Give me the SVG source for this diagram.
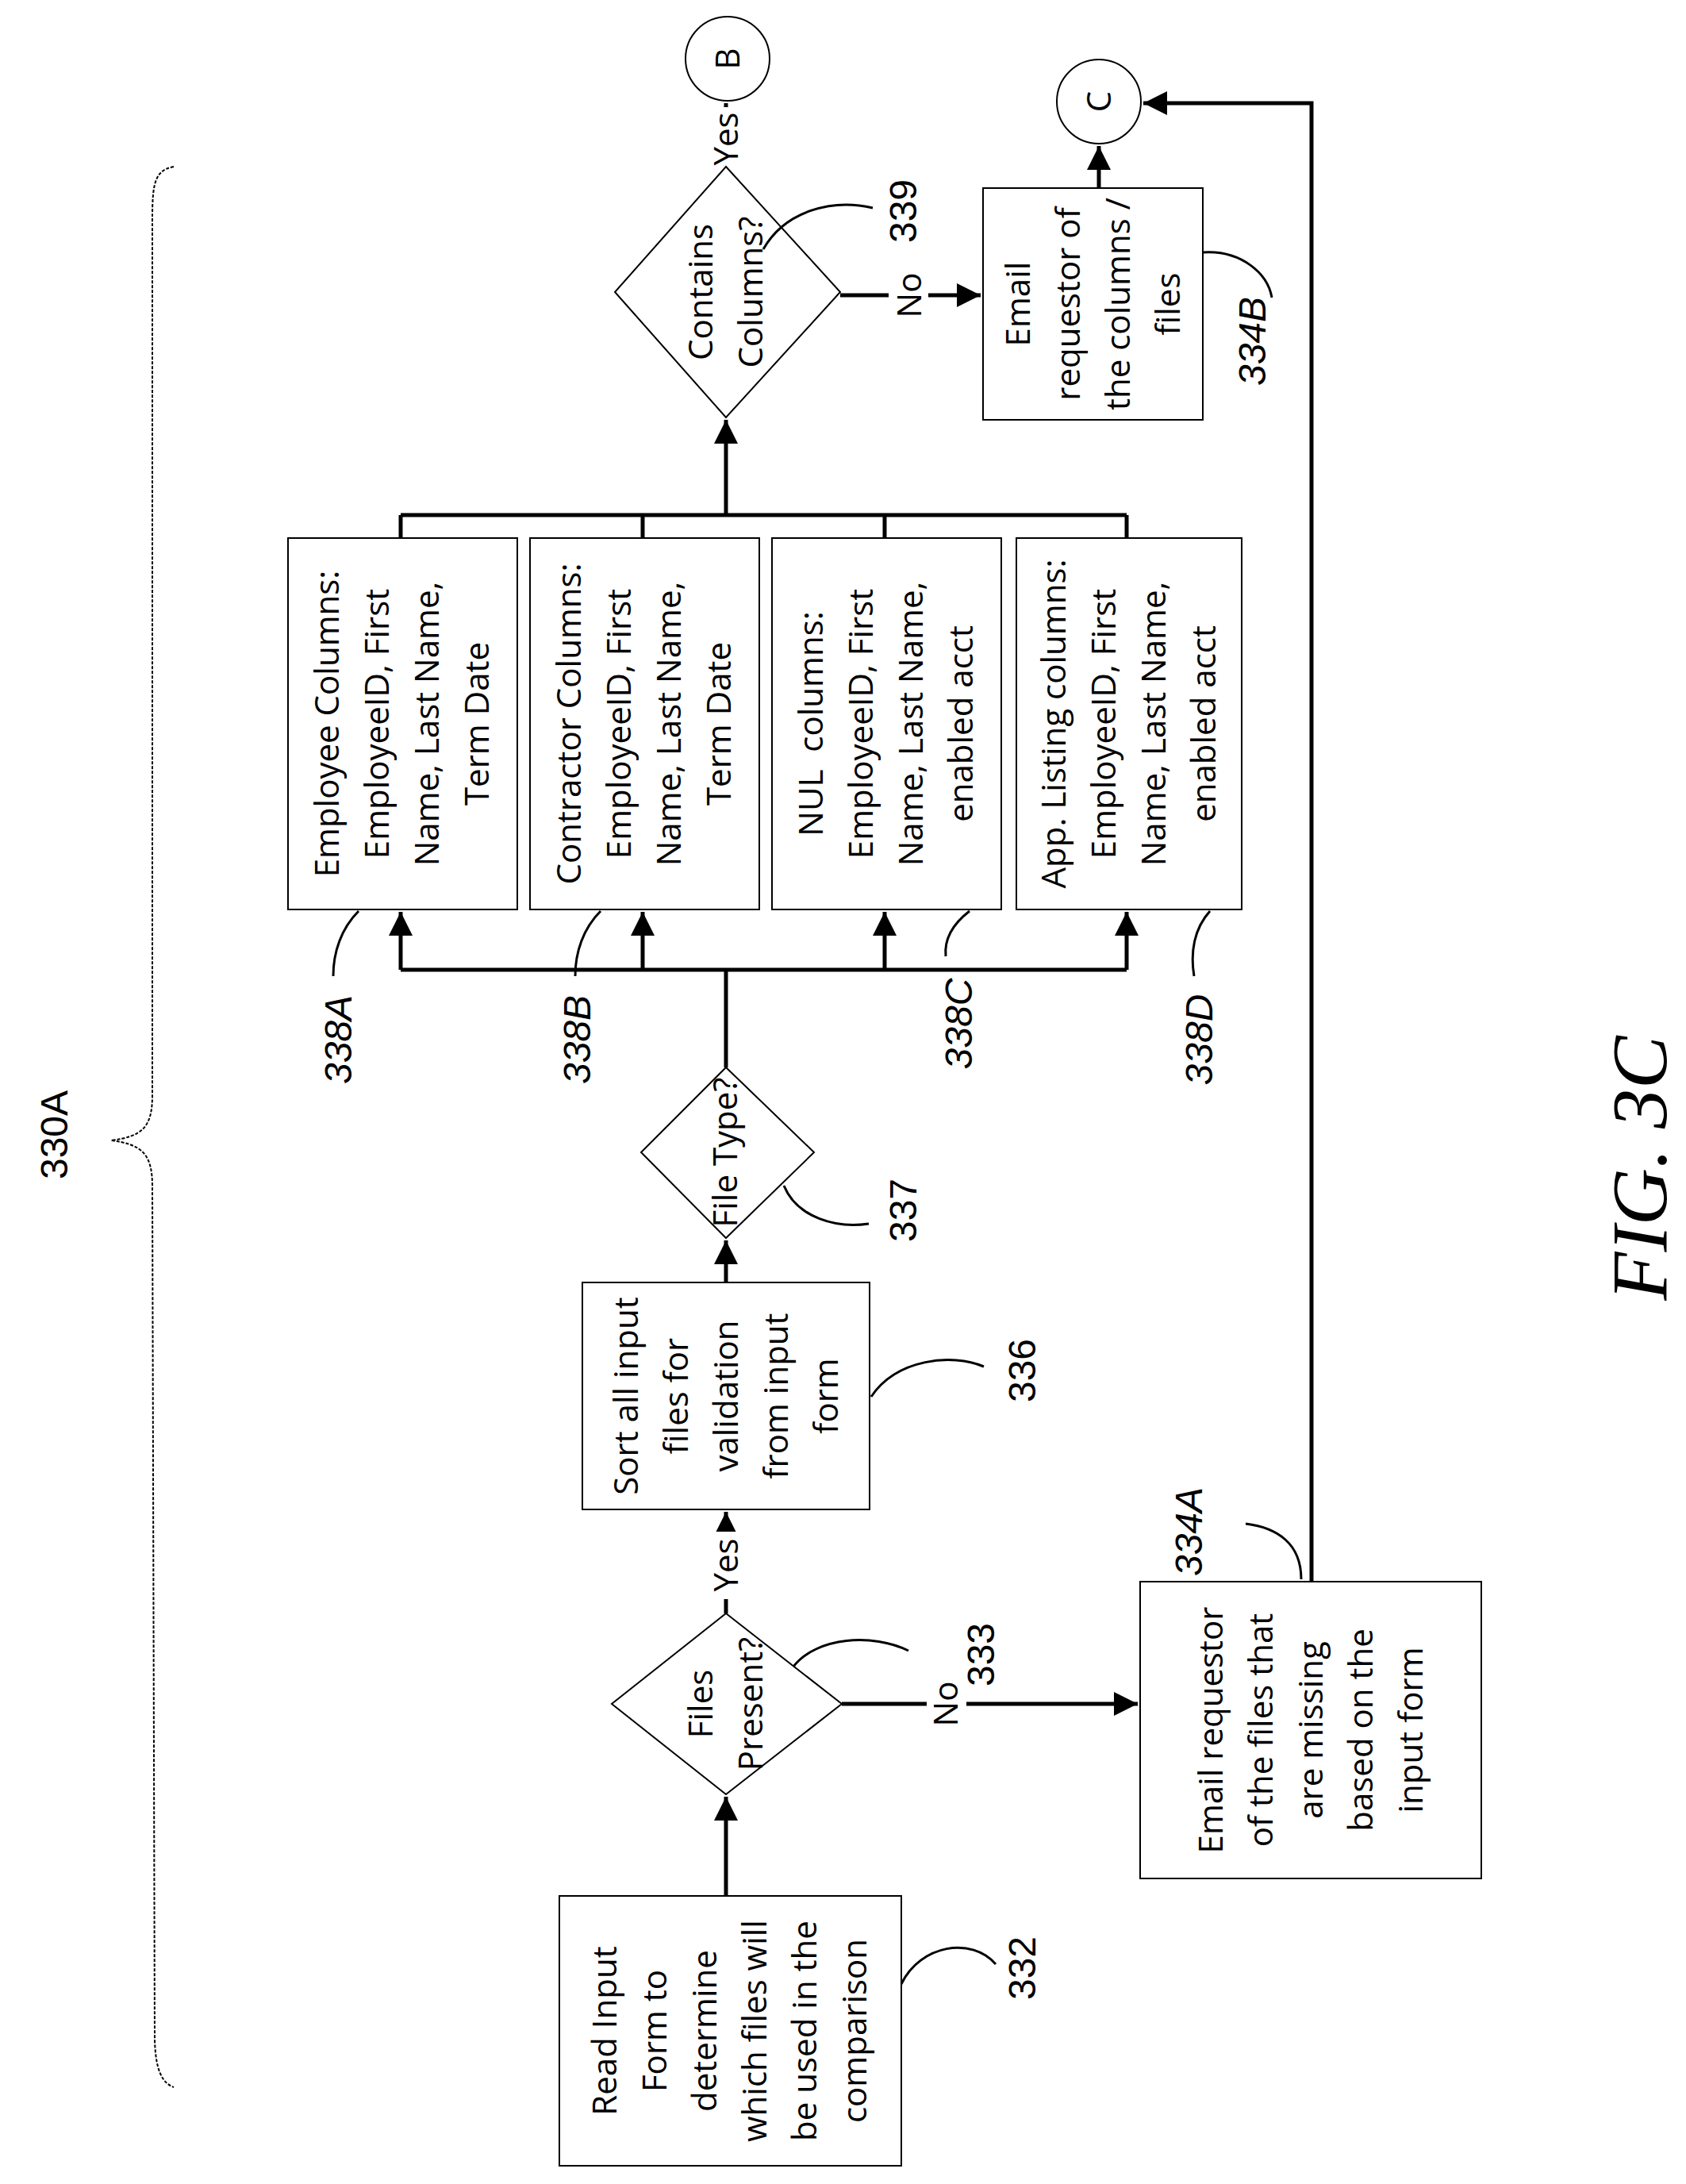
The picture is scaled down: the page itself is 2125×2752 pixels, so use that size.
<svg xmlns="http://www.w3.org/2000/svg" width="2125" height="2752" viewBox="0 0 2125 2752">
<defs>
<marker id="ah" viewBox="0 0 10 10" refX="10" refY="5" markerWidth="6" markerHeight="6" markerUnits="strokeWidth" orient="auto"><path d="M0,0 L10,5 L0,10 z" fill="#000"/></marker>
<style>
.box{fill:#fff;stroke:#000;stroke-width:2}
.ln{fill:none;stroke:#000;stroke-width:5}
.ar{fill:none;stroke:#000;stroke-width:5;marker-end:url(#ah)}
.ld{fill:none;stroke:#000;stroke-width:3}
.t{font-family:"Open Sans","Liberation Sans",sans-serif;font-size:42px;text-anchor:middle}
.n{font-family:"Liberation Sans",sans-serif;font-size:48px;text-anchor:middle}
.ni{font-family:"Liberation Sans",sans-serif;font-size:48px;text-anchor:middle;font-style:italic}
.lbl{font-family:"Open Sans","Liberation Sans",sans-serif;font-size:42px;text-anchor:middle}
</style>
</defs>
<rect width="2125" height="2752" fill="#fff"/>
<g id="brace"><path d="M219,210 C190,215 192,240 192,300 L192,1380 C192,1420 180,1432 140,1437 C180,1442 192,1455 192,1495 L195,2570 C196,2610 205,2625 219,2630" fill="none" stroke="#000" stroke-width="2" stroke-dasharray="4 2"/>
<text class="n" transform="translate(85,1430) rotate(-90)">330A</text></g>
<g id="connectors">
<line class="ar" x1="915" y1="2389" x2="915" y2="2264"/>
<line class="ar" x1="915" y1="2033" x2="915" y2="1905"/>
<line class="ar" x1="1061" y1="2147" x2="1434" y2="2147"/>
<line class="ar" x1="915" y1="1616" x2="915" y2="1563"/>
<line class="ln" x1="915" y1="1345" x2="915" y2="1222"/>
<line class="ln" x1="505" y1="1222" x2="1420" y2="1222"/>
<line class="ar" x1="505" y1="1222" x2="505" y2="1149"/>
<line class="ar" x1="810" y1="1222" x2="810" y2="1149"/>
<line class="ar" x1="1115" y1="1222" x2="1115" y2="1149"/>
<line class="ar" x1="1420" y1="1222" x2="1420" y2="1149"/>
<line class="ln" x1="505" y1="678" x2="505" y2="649"/>
<line class="ln" x1="810" y1="678" x2="810" y2="649"/>
<line class="ln" x1="1115" y1="678" x2="1115" y2="649"/>
<line class="ln" x1="1420" y1="678" x2="1420" y2="649"/>
<line class="ln" x1="505" y1="649" x2="1420" y2="649"/>
<line class="ar" x1="915" y1="649" x2="915" y2="529"/>
<line class="ar" x1="915" y1="210" x2="915" y2="130"/>
<line class="ar" x1="1059" y1="372" x2="1236" y2="372"/>
<line class="ar" x1="1385" y1="237" x2="1385" y2="184"/>
<polyline class="ar" points="1653,1993 1653,130 1441,130"/>
<rect x="890" y="1930" width="50" height="85" fill="#fff"/>
<text class="lbl" transform="translate(930,1972) rotate(-90)">Yes</text>
<rect x="1168" y="2110" width="50" height="75" fill="#fff"/>
<text class="lbl" transform="translate(1207,2147) rotate(-90)">No</text>
<rect x="890" y="135" width="50" height="75" fill="#fff"/>
<text class="lbl" transform="translate(930,175) rotate(-90)">Yes</text>
<rect x="1120" y="335" width="50" height="75" fill="#fff"/>
<text class="lbl" transform="translate(1161,372) rotate(-90)">No</text>
</g>
<g id="n332"><rect class="box" x="705" y="2389" width="431" height="340"/>
<text class="t" transform="translate(920,2559) rotate(-90)"><tspan x="0" y="-143">Read Input</tspan><tspan x="0" y="-80">Form to</tspan><tspan x="0" y="-17">determine</tspan><tspan x="0" y="46">which files will</tspan><tspan x="0" y="109">be used in the</tspan><tspan x="0" y="172">comparison</tspan></text></g>
<g id="n333"><polygon class="box" points="915,2033 1061,2147 915,2261 771,2147"/>
<text class="t" transform="translate(915,2147) rotate(-90)"><tspan x="0" y="-17">Files</tspan><tspan x="0" y="46">Present?</tspan></text></g>
<g id="n336"><rect class="box" x="734" y="1616" width="362" height="286"/>
<text class="t" transform="translate(915,1759) rotate(-90)"><tspan x="0" y="-111">Sort all input</tspan><tspan x="0" y="-48">files for</tspan><tspan x="0" y="15">validation</tspan><tspan x="0" y="78">from input</tspan><tspan x="0" y="141">form</tspan></text></g>
<g id="n334A"><rect class="box" x="1437" y="1993" width="430" height="374"/>
<text class="t" transform="translate(1652,2180) rotate(-90)"><tspan x="0" y="-111">Email requestor</tspan><tspan x="0" y="-48">of the files that</tspan><tspan x="0" y="15">are missing</tspan><tspan x="0" y="78">based on the</tspan><tspan x="0" y="141">input form</tspan></text></g>
<g id="n337"><polygon class="box" points="915,1345 1026,1452 915,1560 808,1452"/>
<text class="t" transform="translate(915,1452) rotate(-90)" font-size="40"><tspan x="0" y="14">File Type?</tspan></text></g>
<g id="n338A"><rect class="box" x="363" y="678" width="289" height="468"/>
<text class="t" transform="translate(507,912) rotate(-90)"><tspan x="0" y="-80">Employee Columns:</tspan><tspan x="0" y="-17">EmployeeID, First</tspan><tspan x="0" y="46">Name, Last Name,</tspan><tspan x="0" y="109">Term Date</tspan></text></g>
<g id="n338B"><rect class="box" x="668" y="678" width="289" height="468"/>
<text class="t" transform="translate(812,912) rotate(-90)"><tspan x="0" y="-80">Contractor Columns:</tspan><tspan x="0" y="-17">EmployeeID, First</tspan><tspan x="0" y="46">Name, Last Name,</tspan><tspan x="0" y="109">Term Date</tspan></text></g>
<g id="n338C"><rect class="box" x="973" y="678" width="289" height="468"/>
<text class="t" transform="translate(1117,912) rotate(-90)" xml:space="preserve"><tspan x="0" y="-80">NUL  columns:</tspan><tspan x="0" y="-17">EmployeeID, First</tspan><tspan x="0" y="46">Name, Last Name,</tspan><tspan x="0" y="109">enabled acct</tspan></text></g>
<g id="n338D"><rect class="box" x="1281" y="678" width="284" height="468"/>
<text class="t" transform="translate(1423,912) rotate(-90)"><tspan x="0" y="-80">App. Listing columns:</tspan><tspan x="0" y="-17">EmployeeID, First</tspan><tspan x="0" y="46">Name, Last Name,</tspan><tspan x="0" y="109">enabled acct</tspan></text></g>
<g id="n339"><polygon class="box" points="915,210 1059,368 915,526 775,368"/>
<text class="t" transform="translate(915,368) rotate(-90)"><tspan x="0" y="-17">Contains</tspan><tspan x="0" y="46">Columns?</tspan></text></g>
<g id="n334B"><rect class="box" x="1239" y="237" width="277" height="292"/>
<text class="t" transform="translate(1378,383) rotate(-90)"><tspan x="0" y="-80">Email</tspan><tspan x="0" y="-17">requestor of</tspan><tspan x="0" y="46">the columns /</tspan><tspan x="0" y="109">files</tspan></text></g>
<g id="nB"><circle class="box" cx="917" cy="74" r="53"/><text class="t" transform="translate(917,74) rotate(-90)" y="15">B</text></g>
<g id="nC"><circle class="box" cx="1385" cy="128" r="53"/><text class="t" transform="translate(1385,128) rotate(-90)" y="15">C</text></g>
<g id="labels">
<path class="ld" d="M1136,2500 C1160,2450 1225,2440 1255,2475"/>
<text class="n" transform="translate(1305,2480) rotate(-90)">332</text>
<path class="ld" d="M1000,2100 C1030,2062 1100,2058 1145,2080"/>
<text class="n" transform="translate(1253,2085) rotate(-90)">333</text>
<path class="ld" d="M1098,1760 C1130,1712 1200,1705 1240,1722"/>
<text class="n" transform="translate(1305,1727) rotate(-90)">336</text>
<path class="ld" d="M988,1494 C1005,1535 1055,1548 1095,1542"/>
<text class="n" transform="translate(1155,1525) rotate(-90)">337</text>
<path class="ld" d="M962,314 C990,265 1050,250 1100,262"/>
<text class="n" transform="translate(1155,266) rotate(-90)">339</text>
<path class="ld" d="M1516,318 C1565,315 1598,345 1603,375"/>
<text class="ni" transform="translate(1595,430) rotate(-90)">334B</text>
<path class="ld" d="M1640,1990 C1640,1945 1610,1925 1570,1920"/>
<text class="ni" transform="translate(1515,1930) rotate(-90)">334A</text>
<path class="ld" d="M452,1148 C430,1170 420,1200 420,1230"/>
<text class="ni" transform="translate(443,1310) rotate(-90)">338A</text>
<path class="ld" d="M757,1148 C735,1170 725,1200 725,1230"/>
<text class="ni" transform="translate(744,1310) rotate(-90)">338B</text>
<path class="ld" d="M1222,1148 C1200,1165 1190,1185 1192,1205"/>
<text class="ni" transform="translate(1225,1290) rotate(-90)">338C</text>
<path class="ld" d="M1525,1148 C1505,1170 1500,1200 1505,1230"/>
<text class="ni" transform="translate(1528,1310) rotate(-90)">338D</text>
<text transform="translate(2100,1472) rotate(-90)" font-family="Liberation Serif,serif" font-style="italic" font-size="100" text-anchor="middle">FIG. 3C</text>
</g>
</svg>
